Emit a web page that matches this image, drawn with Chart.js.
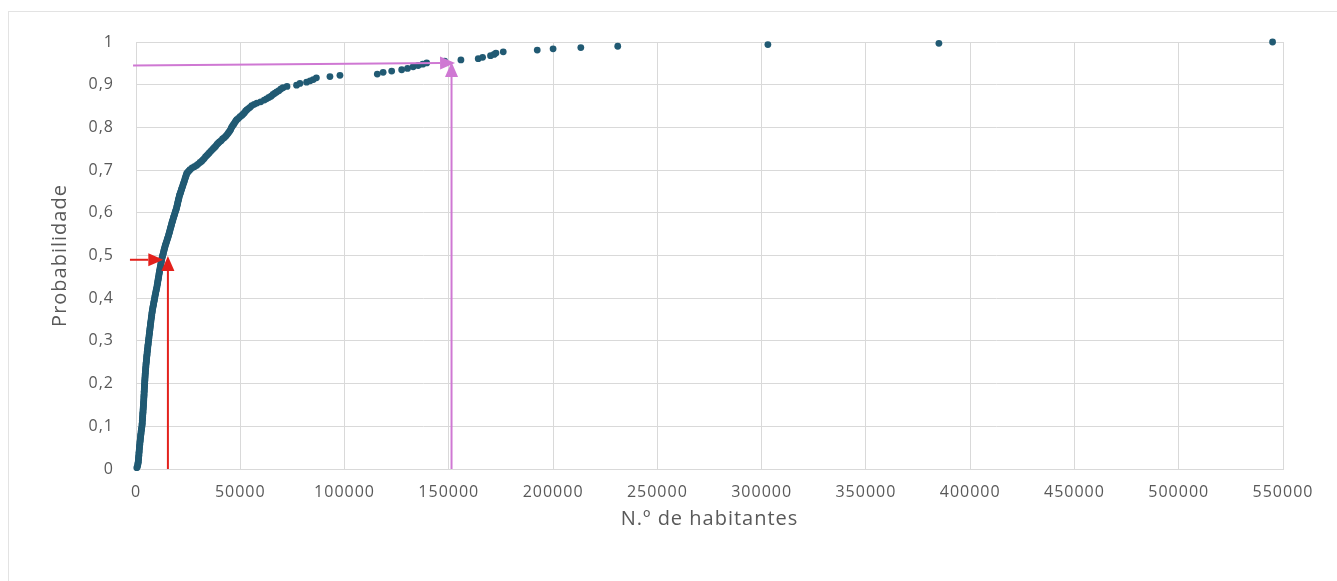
<!DOCTYPE html>
<html>
<head>
<meta charset="utf-8">
<title>Probabilidade acumulada – N.º de habitantes</title>
<script src="https://cdn.jsdelivr.net/npm/chart.js@4.4.1/dist/chart.umd.min.js"></script>
<style>
  html, body { margin: 0; padding: 0; background: #ffffff; }
  #wrap { position: relative; width: 1337px; height: 581px; }
</style>
</head>
<body>
<div id="wrap"><canvas id="grafico" width="1337" height="581"></canvas></div>
<script>
// População de cada concelho, por ordem crescente
const habitantes = [
  380, 720, 850, 960, 1050, 1130, 1190, 1250, 1310, 1360,
  1410, 1460, 1520, 1580, 1640, 1700, 1760, 1830, 1890, 1950,
  2030, 2100, 2180, 2250, 2330, 2400, 2480, 2570, 2660, 2760,
  2880, 2920, 2970, 3010, 3060, 3100, 3150, 3190, 3240, 3290,
  3330, 3380, 3420, 3460, 3510, 3550, 3600, 3650, 3700, 3730,
  3760, 3800, 3830, 3860, 3900, 3930, 3960, 4000, 4040, 4080,
  4120, 4160, 4200, 4240, 4280, 4320, 4360, 4400, 4450, 4510,
  4560, 4620, 4670, 4730, 4780, 4840, 4900, 4970, 5030, 5100,
  5170, 5230, 5300, 5370, 5430, 5500, 5580, 5650, 5730, 5810,
  5890, 5970, 6050, 6120, 6200, 6280, 6360, 6440, 6520, 6600,
  6680, 6760, 6840, 6920, 7000, 7090, 7180, 7270, 7360, 7440,
  7530, 7620, 7710, 7800, 7920, 8040, 8160, 8290, 8410, 8530,
  8650, 8780, 8900, 9030, 9160, 9300, 9430, 9570, 9700, 9830,
  9970, 10100, 10210, 10320, 10440, 10550, 10660, 10770, 10880, 11000,
  11100, 11200, 11320, 11440, 11570, 11690, 11810, 11930, 12060, 12180,
  12300, 12470, 12630, 12800, 12970, 13130, 13300, 13470, 13630, 13800,
  14010, 14220, 14430, 14640, 14860, 15070, 15280, 15490, 15700, 15880,
  16060, 16240, 16420, 16600, 16780, 16960, 17140, 17320, 17500, 17710,
  17920, 18130, 18340, 18560, 18770, 18980, 19190, 19400, 19550, 19710,
  19870, 20020, 20180, 20330, 20490, 20640, 20800, 21020, 21240, 21470,
  21690, 21910, 22130, 22360, 22580, 22800, 23010, 23230, 23440, 23660,
  23870, 24090, 24300, 24830, 25370, 25900, 26900, 28000, 29000, 29800,
  30700, 31500, 32100, 32700, 33300, 33900, 34500, 35100, 35800, 36400,
  37000, 37600, 38200, 38800, 39400, 40000, 40800, 41500, 42300, 43000,
  43500, 44100, 44600, 45000, 45400, 45700, 46100, 46500, 47000, 47400,
  47900, 48300, 49100, 49900, 50700, 51300, 51900, 52500, 53100, 53900,
  54700, 55500, 56700, 58000, 59800, 61500, 62600, 63700, 64800, 65700,
  66600, 67500, 68500, 69500, 70500, 72400, 77000, 78600, 81800, 83500,
  85000, 86500, 93000, 97800, 115700, 118500, 122600, 127400, 130200, 132900,
  135300, 137500, 139400, 148000, 155800, 164100, 166200, 170000, 171700, 172600,
  176100, 192400, 200000, 213300, 231000, 303000, 385000, 545000
];

// Probabilidade acumulada de cada concelho
const probabilidade = [
  0.003, 0.006, 0.010, 0.013, 0.016, 0.019, 0.023, 0.026, 0.029, 0.032,
  0.036, 0.039, 0.042, 0.045, 0.049, 0.052, 0.055, 0.058, 0.062, 0.065,
  0.068, 0.071, 0.075, 0.078, 0.081, 0.084, 0.088, 0.091, 0.094, 0.097,
  0.101, 0.104, 0.107, 0.110, 0.114, 0.117, 0.120, 0.123, 0.127, 0.130,
  0.133, 0.136, 0.140, 0.143, 0.146, 0.149, 0.153, 0.156, 0.159, 0.162,
  0.166, 0.169, 0.172, 0.175, 0.179, 0.182, 0.185, 0.188, 0.192, 0.195,
  0.198, 0.201, 0.205, 0.208, 0.211, 0.214, 0.218, 0.221, 0.224, 0.227,
  0.231, 0.234, 0.237, 0.240, 0.244, 0.247, 0.250, 0.253, 0.256, 0.260,
  0.263, 0.266, 0.269, 0.273, 0.276, 0.279, 0.282, 0.286, 0.289, 0.292,
  0.295, 0.299, 0.302, 0.305, 0.308, 0.312, 0.315, 0.318, 0.321, 0.325,
  0.328, 0.331, 0.334, 0.338, 0.341, 0.344, 0.347, 0.351, 0.354, 0.357,
  0.360, 0.364, 0.367, 0.370, 0.373, 0.377, 0.380, 0.383, 0.386, 0.390,
  0.393, 0.396, 0.399, 0.403, 0.406, 0.409, 0.412, 0.416, 0.419, 0.422,
  0.425, 0.429, 0.432, 0.435, 0.438, 0.442, 0.445, 0.448, 0.451, 0.455,
  0.458, 0.461, 0.464, 0.468, 0.471, 0.474, 0.477, 0.481, 0.484, 0.487,
  0.490, 0.494, 0.497, 0.500, 0.503, 0.506, 0.510, 0.513, 0.516, 0.519,
  0.523, 0.526, 0.529, 0.532, 0.536, 0.539, 0.542, 0.545, 0.549, 0.552,
  0.555, 0.558, 0.562, 0.565, 0.568, 0.571, 0.575, 0.578, 0.581, 0.584,
  0.588, 0.591, 0.594, 0.597, 0.601, 0.604, 0.607, 0.610, 0.614, 0.617,
  0.620, 0.623, 0.627, 0.630, 0.633, 0.636, 0.640, 0.643, 0.646, 0.649,
  0.653, 0.656, 0.659, 0.662, 0.666, 0.669, 0.672, 0.675, 0.679, 0.682,
  0.685, 0.688, 0.692, 0.695, 0.698, 0.701, 0.705, 0.708, 0.711, 0.714,
  0.718, 0.721, 0.724, 0.727, 0.731, 0.734, 0.737, 0.740, 0.744, 0.747,
  0.750, 0.753, 0.756, 0.760, 0.763, 0.766, 0.769, 0.773, 0.776, 0.779,
  0.782, 0.786, 0.789, 0.792, 0.795, 0.799, 0.802, 0.805, 0.808, 0.812,
  0.815, 0.818, 0.821, 0.825, 0.828, 0.831, 0.834, 0.838, 0.841, 0.844,
  0.847, 0.851, 0.854, 0.857, 0.860, 0.864, 0.867, 0.870, 0.873, 0.877,
  0.880, 0.883, 0.886, 0.890, 0.893, 0.896, 0.899, 0.903, 0.906, 0.909,
  0.912, 0.916, 0.919, 0.922, 0.925, 0.929, 0.932, 0.935, 0.938, 0.942,
  0.945, 0.948, 0.951, 0.955, 0.958, 0.961, 0.964, 0.968, 0.971, 0.974,
  0.977, 0.981, 0.984, 0.987, 0.990, 0.994, 0.997, 1.000
];

// Marcas dos eixos
const ticksHabitantes = [0, 50000, 100000, 150000, 200000, 250000, 300000, 350000, 400000, 450000, 500000, 550000];
const ticksProbabilidade = [0, 0.1, 0.2, 0.3, 0.4, 0.5, 0.6, 0.7, 0.8, 0.9, 1];

// Setas de leitura (mediana e percentil 95), em unidades dos eixos
const setaInicioX = [-2900, 15300, -1400, 151300];
const setaInicioY = [0.490, 0, 0.945, 0];
const setaFimX = [13100, 15300, 153000, 151300];
const setaFimY = [0.490, 0.499, 0.951, 0.953];

const COR_TEXTO = '#595959';
const COR_GRELHA = '#d9d9d9';
const COR_PONTOS = '#215a73';
const CORES_SETAS = ['#e3211c', '#e3211c', '#cf78d3', '#cf78d3'];
const FONTE = '"Open Sans", "Liberation Sans", sans-serif';
const ESPACO_LETRAS = '1px';

const pontos = habitantes.map((h, i) => ({ x: h, y: probabilidade[i] }));

// Espaçamento entre letras dos textos dos eixos
const espacamento = {
  id: 'espacamento',
  beforeUpdate(chart) { chart.ctx.letterSpacing = ESPACO_LETRAS; },
  beforeDraw(chart) { chart.ctx.letterSpacing = ESPACO_LETRAS; }
};

// Moldura clara à volta da área do gráfico
const moldura = {
  id: 'moldura',
  beforeDraw(chart) {
    const ctx = chart.ctx;
    ctx.save();
    ctx.fillStyle = '#ffffff';
    ctx.fillRect(0, 0, chart.width, chart.height);
    ctx.strokeStyle = '#e3e3e3';
    ctx.lineWidth = 1;
    ctx.strokeRect(8.5, 11.5, chart.width + 20, chart.height + 20);
    ctx.restore();
  }
};

// Setas desenhadas sobre os pontos, posicionadas pelas escalas
const setas = {
  id: 'setas',
  afterDatasetsDraw(chart) {
    const { ctx, scales: { x, y } } = chart;
    ctx.save();
    for (let i = 0; i < setaInicioX.length; i++) {
      const x0 = x.getPixelForValue(setaInicioX[i]);
      const y0 = y.getPixelForValue(setaInicioY[i]);
      const x1 = x.getPixelForValue(setaFimX[i]);
      const y1 = y.getPixelForValue(setaFimY[i]);
      const ang = Math.atan2(y1 - y0, x1 - x0);
      const comp = 15, larg = 6.5;
      const bx = x1 - comp * Math.cos(ang);
      const by = y1 - comp * Math.sin(ang);
      ctx.strokeStyle = CORES_SETAS[i];
      ctx.fillStyle = CORES_SETAS[i];
      ctx.lineWidth = 2;
      ctx.beginPath();
      ctx.moveTo(x0, y0);
      ctx.lineTo(bx, by);
      ctx.stroke();
      ctx.beginPath();
      ctx.moveTo(x1, y1);
      ctx.lineTo(bx + larg * Math.sin(ang), by - larg * Math.cos(ang));
      ctx.lineTo(bx - larg * Math.sin(ang), by + larg * Math.cos(ang));
      ctx.closePath();
      ctx.fill();
    }
    ctx.restore();
  }
};

const fmtProb = v => {
  const r = Math.round(v * 10) / 10;
  return (r === 0 || r === 1) ? String(r) : r.toFixed(1).replace('.', ',');
};

new Chart(document.getElementById('grafico'), {
  type: 'scatter',
  data: {
    datasets: [{
      label: 'Probabilidade',
      data: pontos,
      backgroundColor: COR_PONTOS,
      borderColor: COR_PONTOS,
      borderWidth: 0,
      pointRadius: 3.4,
      pointHoverRadius: 3.4,
      clip: false
    }]
  },
  options: {
    responsive: false,
    animation: false,
    devicePixelRatio: 1,
    layout: { padding: { left: 48, top: 42, right: 54, bottom: 50 } },
    plugins: {
      legend: { display: false },
      title: { display: false },
      tooltip: { enabled: false }
    },
    scales: {
      x: {
        type: 'linear',
        min: 0,
        max: 550000,
        afterBuildTicks: s => { s.ticks = ticksHabitantes.map(v => ({ value: v })); },
        afterFit: s => { s.height = 62; },
        ticks: {
          color: COR_TEXTO,
          font: { family: FONTE, size: 16 },
          padding: 14,
          maxRotation: 0,
          autoSkip: false,
          callback: v => String(v)
        },
        grid: { color: COR_GRELHA, lineWidth: 1, drawTicks: false },
        border: { color: COR_GRELHA, width: 1 },
        title: {
          display: true,
          text: 'N.º de habitantes',
          color: COR_TEXTO,
          font: { family: FONTE, size: 20 },
          padding: 0
        }
      },
      y: {
        type: 'linear',
        min: 0,
        max: 1,
        afterBuildTicks: s => { s.ticks = ticksProbabilidade.map(v => ({ value: v })); },
        afterFit: s => { s.width = 88; },
        ticks: {
          color: COR_TEXTO,
          font: { family: FONTE, size: 16 },
          padding: 22,
          autoSkip: false,
          callback: v => fmtProb(v)
        },
        grid: { color: COR_GRELHA, lineWidth: 1, drawTicks: false },
        border: { color: COR_GRELHA, width: 1 },
        title: {
          display: true,
          text: 'Probabilidade',
          color: COR_TEXTO,
          font: { family: FONTE, size: 20 },
          padding: 0
        }
      }
    }
  },
  plugins: [espacamento, moldura, setas]
});
</script>
</body>
</html>
